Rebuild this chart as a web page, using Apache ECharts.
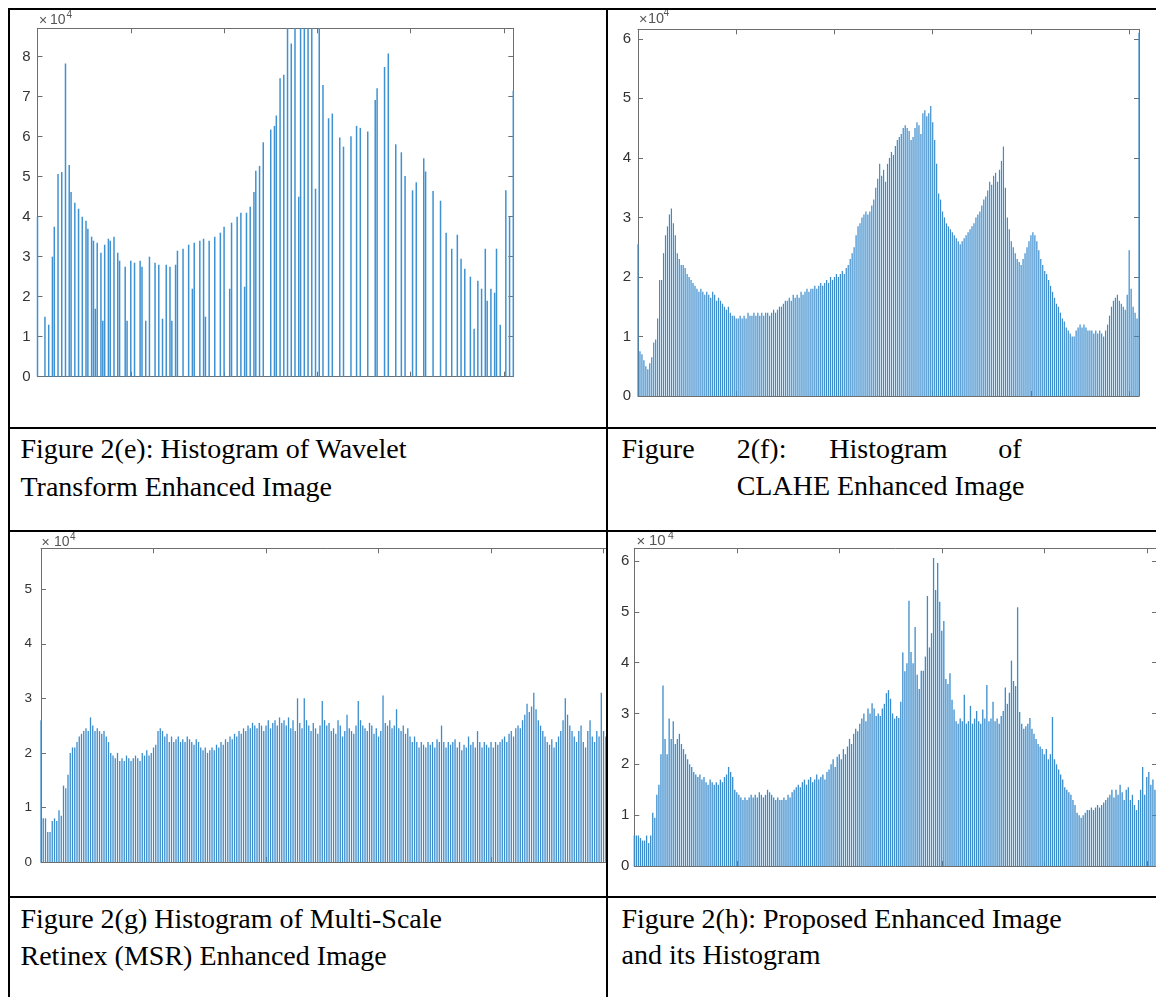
<!DOCTYPE html>
<html>
<head>
<meta charset="utf-8">
<script src="https://cdn.jsdelivr.net/npm/echarts@6/dist/echarts.min.js"></script>
<style>
html,body{margin:0;padding:0;background:#fff;}
#page{position:relative;width:1156px;height:997px;overflow:hidden;background:#fff;}
.ln{position:absolute;background:#000;z-index:10;}
.cap{position:absolute;font-family:"Liberation Serif","Times New Roman",serif;font-size:28px;line-height:37px;color:#000;white-space:nowrap;z-index:5;}
.wrap{position:absolute;overflow:hidden;}
.inner{position:absolute;width:1200px;height:1000px;}
</style>
</head>
<body>
<div id="page"></div>
<script>
// ---------------- DATA (counts in units of 10^4) ----------------
// Figure 2(e): Wavelet transform histogram (sparse bins)
const waveletBins = [0,4,6,8,9,11,13,15,17,18,20,22,24,26,27,29,30,31,32,34,35,36,38,39,41,43,44,47,48,50,52,55,56,58,60,63,65,67,69,71,72,74,75,78,81,83,84,87,89,90,92,95,98,100,103,104,107,109,111,112,114,116,117,119,121,125,127,128,130,132,134,136,138,140,141,143,145,147,149,151,153,156,158,162,164,168,171,173,177,181,182,186,188,192,195,197,201,203,207,208,212,216,219,222,225,227,229,232,234,236,238,240,241,243,245,246,248,251,253,255];
const waveletCounts = [4.0,1.5,1.3,3.0,3.75,5.07,5.12,7.83,5.29,4.62,4.35,4.2,4.0,3.9,3.7,3.5,3.4,1.7,3.35,3.1,1.4,3.3,3.45,3.4,3.5,3.1,2.9,2.75,1.4,2.9,2.85,2.9,2.75,1.4,3.0,2.85,2.8,1.45,2.8,2.75,1.4,2.8,3.15,3.2,3.3,2.2,3.35,3.4,3.45,1.5,3.4,3.5,3.6,3.75,2.2,3.85,4.0,4.1,2.25,4.1,4.25,4.62,5.15,5.27,5.86,6.18,6.27,6.53,7.46,7.55,9.0,8.33,9.0,4.5,9.0,9.0,9.0,9.0,4.7,9.0,7.29,6.46,6.58,5.98,5.75,6.01,6.27,6.22,6.13,6.92,7.21,7.74,8.08,5.81,5.61,5.02,4.66,4.86,5.46,5.13,4.64,4.4,3.6,3.2,3.55,2.95,2.7,2.5,1.2,2.4,2.2,3.2,1.9,2.2,2.1,3.2,1.3,4.66,4.0,7.15];

// Figure 2(f): CLAHE histogram (bins 0..255)
const claheCounts = [
2.55,0.75,0.7,0.6,0.5,0.45,0.55,0.65,0.9,0.95,
1.3,1.95,1.95,2.4,2.7,2.85,3.05,3.15,2.9,2.7,
2.4,2.3,2.2,2.2,2.15,2.05,2.0,1.95,1.9,1.85,
1.8,1.75,1.8,1.75,1.7,1.75,1.7,1.65,1.75,1.7,
1.6,1.65,1.6,1.55,1.5,1.45,1.5,1.4,1.35,1.35,
1.3,1.3,1.35,1.3,1.35,1.3,1.4,1.35,1.35,1.4,
1.35,1.4,1.35,1.4,1.35,1.4,1.4,1.35,1.4,1.45,
1.4,1.45,1.5,1.5,1.55,1.6,1.6,1.65,1.6,1.7,
1.65,1.7,1.65,1.75,1.7,1.75,1.8,1.75,1.8,1.8,
1.85,1.8,1.85,1.9,1.85,1.9,1.95,1.9,2.0,1.95,
2.0,2.05,2.0,2.05,2.1,2.05,2.15,2.2,2.3,2.4,
2.5,2.7,2.85,2.9,3.0,3.05,3.1,3.05,3.1,3.2,
3.3,3.5,3.65,3.9,3.7,3.8,3.6,3.9,4.0,4.1,
4.05,4.2,4.3,4.35,4.4,4.5,4.55,4.5,4.45,4.3,
4.35,4.5,4.6,4.55,4.4,4.75,4.8,4.7,4.75,4.87,
4.6,4.3,3.9,3.4,3.3,3.1,3.0,2.9,2.85,2.8,
2.75,2.7,2.65,2.6,2.55,2.6,2.65,2.7,2.75,2.8,
2.85,2.9,3.0,3.05,3.1,3.2,3.3,3.35,3.45,3.6,
3.55,3.7,3.75,3.6,3.8,3.95,4.19,3.5,3.0,2.8,
2.6,2.5,2.4,2.3,2.25,2.2,2.3,2.4,2.5,2.6,
2.7,2.75,2.7,2.6,2.45,2.3,2.2,2.1,2.05,1.95,
1.85,1.75,1.65,1.55,1.5,1.4,1.3,1.25,1.15,1.1,
1.05,1.0,1.0,1.1,1.15,1.2,1.15,1.2,1.15,1.1,
1.1,1.1,1.05,1.1,1.05,1.1,1.05,1.0,1.1,1.2,
1.35,1.5,1.6,1.65,1.7,1.6,1.55,1.5,1.45,1.7,
2.45,1.8,1.5,1.4,1.3,6.1];

// Figure 2(g): Multi-Scale Retinex histogram (bins 0..255)
const msrCounts = [
2.6,0.8,0.8,0.55,0.55,0.75,0.8,0.75,0.95,0.85,
1.4,1.35,1.6,2.0,2.1,2.1,2.2,2.3,2.35,2.4,
2.45,2.4,2.65,2.5,2.4,2.45,2.4,2.35,2.4,2.3,
2.2,2.0,1.95,1.9,2.0,1.85,1.9,1.85,1.95,1.9,
1.85,1.9,1.95,1.9,1.85,2.0,1.95,2.05,1.95,2.0,
2.1,2.15,2.4,2.45,2.4,2.3,2.35,2.2,2.3,2.2,
2.25,2.3,2.2,2.25,2.2,2.3,2.25,2.2,2.15,2.25,
2.2,2.1,2.05,2.1,2.0,2.05,2.1,2.05,2.15,2.1,
2.2,2.15,2.25,2.2,2.3,2.25,2.35,2.3,2.4,2.35,
2.45,2.4,2.5,2.45,2.55,2.5,2.45,2.55,2.5,2.4,
2.5,2.6,2.45,2.55,2.6,2.5,2.65,2.55,2.6,2.5,
2.65,2.45,2.6,2.4,3.0,2.55,2.45,3.0,2.6,2.5,
2.4,2.55,2.45,2.35,2.5,2.95,2.6,2.5,2.55,2.4,
2.45,2.35,2.6,2.5,2.3,2.4,2.7,2.45,2.4,2.35,
2.5,2.95,2.6,2.5,2.45,2.4,2.55,2.5,2.35,2.45,
2.3,2.4,3.05,2.55,2.5,2.6,2.45,2.5,2.8,2.45,
2.4,2.5,2.35,2.45,2.3,2.2,2.3,2.2,2.1,2.2,
2.15,2.1,2.2,2.15,2.2,2.1,2.25,2.2,2.5,2.2,
2.1,2.2,2.15,2.2,2.25,2.1,2.2,2.05,2.15,2.1,
2.3,2.15,2.2,2.1,2.4,2.2,2.1,2.2,2.15,2.1,
2.2,2.1,2.2,2.15,2.2,2.25,2.3,2.2,2.35,2.4,
2.3,2.45,2.5,2.45,2.6,2.7,2.9,2.75,2.85,3.1,
2.8,2.6,2.5,2.4,2.3,2.2,2.15,2.25,2.1,2.2,
2.3,2.4,2.6,3.0,2.7,2.5,2.4,2.3,2.2,2.4,
2.5,2.2,2.1,2.4,2.6,2.3,2.2,2.4,2.3,3.1,
2.4,2.3,2.2,2.3,2.2,2.4];

// Figure 2(h): Proposed method histogram (bins 0..255)
const proposedCounts = [
0.6,0.6,0.6,0.55,0.5,0.5,0.6,0.45,0.6,1.05,
0.95,1.4,1.6,2.2,3.55,2.5,2.2,2.9,2.5,2.85,
2.4,2.5,2.6,2.4,2.3,2.2,2.1,2.0,1.95,1.85,
1.8,1.75,1.8,1.7,1.75,1.65,1.6,1.7,1.65,1.6,
1.65,1.6,1.7,1.65,1.75,1.8,1.95,1.85,1.75,1.5,
1.45,1.4,1.35,1.3,1.35,1.3,1.35,1.4,1.35,1.4,
1.35,1.45,1.4,1.35,1.4,1.5,1.45,1.4,1.35,1.3,
1.35,1.3,1.3,1.35,1.3,1.4,1.35,1.45,1.5,1.55,
1.6,1.55,1.65,1.7,1.6,1.7,1.75,1.65,1.7,1.8,
1.7,1.75,1.8,1.7,1.85,1.9,2.0,2.1,1.95,2.15,
2.2,2.1,2.3,2.2,2.35,2.5,2.4,2.6,2.7,2.65,
2.8,2.9,3.0,2.85,3.1,3.0,3.2,3.1,2.95,3.0,
2.95,3.1,3.19,3.4,3.46,3.29,3.0,2.9,2.95,2.91,
3.23,4.2,3.83,3.99,5.22,4.21,3.99,4.7,3.76,3.48,
3.84,3.84,4.12,5.31,4.3,4.58,6.06,5.43,5.96,5.2,
4.63,4.82,3.68,3.58,3.79,3.27,3.08,2.85,2.8,2.9,
2.85,3.37,2.8,2.85,3.15,2.8,2.9,3.05,2.85,2.8,
3.08,2.9,3.56,2.85,2.9,3.23,2.85,2.9,2.8,2.95,
3.05,3.51,3.19,3.41,4.04,3.64,3.54,5.09,3.03,2.8,
2.7,2.75,2.8,2.91,2.7,2.6,2.5,2.4,2.35,2.3,
2.2,2.3,2.1,2.2,2.93,2.1,2.0,1.9,1.8,1.7,
1.55,1.5,1.45,1.4,1.3,1.2,1.05,1.0,0.95,1.0,
1.05,1.1,1.1,1.15,1.1,1.15,1.2,1.15,1.2,1.25,
1.3,1.35,1.4,1.5,1.35,1.5,1.4,1.6,1.45,1.3,
1.5,1.55,1.3,1.4,1.2,1.1,1.3,1.5,1.95,1.4,
1.75,1.85,1.6,1.7,1.5,1.6];

const yTicks = [0,1,2,3,4,5,6,7,8];
const expLabel = ['\u00d7', '10', '4'];
const captions = {
  e: ['Figure 2(e): Histogram of Wavelet', 'Transform Enhanced Image'],
  f: [['Figure','2(f):','Histogram','of'], 'CLAHE Enhanced Image'],
  g: ['Figure 2(g) Histogram of Multi-Scale', 'Retinex (MSR) Enhanced Image'],
  h: ['Figure 2(h): Proposed Enhanced Image', 'and its Histogram']
};

// ---------------- LAYOUT ----------------
const page = document.getElementById('page');
const AX = '#6e6e6e';
const AXFONT = 'Liberation Sans';

function toPairs(bins, counts){ return bins.map((b,i)=>[b, counts[i]]); }
function densePairs(counts){ return counts.map((v,i)=>[i, v]); }

function makePanel(p){
  const wrap = document.createElement('div');
  wrap.className = 'wrap';
  Object.assign(wrap.style, {left:p.clip[0]+'px', top:p.clip[1]+'px', width:p.clip[2]+'px', height:p.clip[3]+'px'});
  const inner = document.createElement('div');
  inner.className = 'inner';
  Object.assign(inner.style, {left:(-p.clip[0])+'px', top:(-p.clip[1])+'px'});
  wrap.appendChild(inner);
  page.appendChild(wrap);
  const chart = echarts.init(inner, null, {renderer:'canvas', width:1200, height:1000});
  const [gl, gt, gr, gb] = p.grid;
  const tick = {show:true, inside:true, length:5, lineStyle:{color:AX, width:1}};
  const line = {show:true, onZero:false, lineStyle:{color:AX, width:1}};
  const xa = pos => ({type:'value', min:0, max:255, interval:50, position:pos, axisLine:line, axisTick:tick, axisLabel:{show:false}, splitLine:{show:false}});
  const ya = (pos, lab) => ({type:'value', min:0, max:p.ymax, interval:1, position:pos, axisLine:line, axisTick:tick,
    splitLine:{show:false},
    axisLabel:{show:lab, color:'#333', fontFamily:AXFONT, fontSize:p.fs, margin:p.lm,
      formatter: v => (yTicks.indexOf(Math.round(v*1000)/1000) >= 0 ? String(Math.round(v)) : '')}});
  const e = p.exp;
  const txt = (t, x, y, fs) => ({type:'text', x:x, y:y, silent:true, style:{text:t, fontSize:fs, fontFamily:AXFONT, fill:'#555', verticalAlign:'middle', align:'left'}});
  chart.setOption({
    animation:false,
    grid:{left:gl, top:gt, width:gr-gl, height:gb-gt, containLabel:false},
    xAxis:[xa('bottom'), xa('top')],
    yAxis:[ya('left', true), ya('right', false)],
    graphic:[
      txt(expLabel[0], e.x, e.y + 1, e.fs),
      txt(expLabel[1], e.tx, e.y, e.fs),
      txt(expLabel[2], e.sx, e.sy, e.sfs)
    ],
    series:[{type:'bar', data:p.data, barWidth:p.bw, itemStyle:{color:p.color}, silent:true, clip:true}]
  });
}

makePanel({clip:[10,10,596,417], grid:[37.5,28.3,513.3,376.7], ymax:8.71, fs:15, lm:7,
  exp:{x:39, tx:50, y:20.5, fs:14, sx:66.5, sy:15, sfs:10},
  data:toPairs(waveletBins, waveletCounts), bw:1.5, color:'#3f92d2'});
makePanel({clip:[608,10,548,417], grid:[638,29.3,1139,396], ymax:6.16, fs:15, lm:7,
  exp:{x:639, tx:648, y:18.5, fs:14.5, sx:663.5, sy:13.5, sfs:10},
  data:densePairs(claheCounts), bw:1.2, color:'#3a8ccd'});
makePanel({clip:[10,532,596,364], grid:[41,548.3,614.8,862], ymax:5.75, fs:13.5, lm:9,
  exp:{x:41.5, tx:54, y:542, fs:14, sx:70, sy:537.5, sfs:10},
  data:densePairs(msrCounts), bw:1.3, color:'#3a8ccd'});
makePanel({clip:[608,532,548,364], grid:[634.3,548.3,1157,866], ymax:6.25, fs:15, lm:5,
  exp:{x:636.5, tx:649, y:540.5, fs:15, sx:668, sy:536.5, sfs:10.5},
  data:densePairs(proposedCounts), bw:1.3, color:'#3a8ccd'});

// table rules
[[8,8,1148,2],[8,8,2,989],[606,8,2,989],[8,427,1148,2],[8,530,1148,2],[8,896,1148,2]].forEach(r=>{
  const d=document.createElement('div'); d.className='ln';
  Object.assign(d.style,{left:r[0]+'px',top:r[1]+'px',width:r[2]+'px',height:r[3]+'px'}); page.appendChild(d);
});

function cap(text, x, y){
  const d=document.createElement('div'); d.className='cap'; d.textContent=text;
  d.style.left=x+'px'; d.style.top=y+'px'; page.appendChild(d);
}
cap(captions.e[0], 20.5, 430.4); cap(captions.e[1], 20.5, 467.6);
const fx=[621.5,736.7,829.3,998.3];
captions.f[0].forEach((w,i)=>cap(w, fx[i], 430.4)); cap(captions.f[1], 736.7, 467.2);
cap(captions.g[0], 20.5, 900.3); cap(captions.g[1], 20.5, 936.6);
cap(captions.h[0], 621.5, 899.8); cap(captions.h[1], 621.5, 936.4);
</script>
</body>
</html>
